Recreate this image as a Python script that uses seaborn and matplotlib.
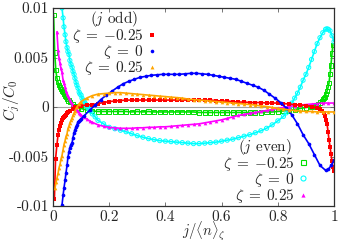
import matplotlib
matplotlib.use("Agg")
import matplotlib.pyplot as plt
import numpy as np
import pandas as pd
import seaborn as sns
from matplotlib.lines import Line2D
from matplotlib.ticker import FixedLocator, FixedFormatter

# ---- data (y in units of 1e-3) ----
# j odd, zeta = -0.25 (red)
x_odd_m = [0.005, 0.009, 0.014, 0.018, 0.021, 0.025, 0.028, 0.032, 0.036, 0.039,
           0.043, 0.046, 0.050, 0.055, 0.060, 0.070, 0.080, 0.090, 0.100,
           0.12, 0.14, 0.16, 0.18, 0.20, 0.22, 0.24, 0.26, 0.28, 0.30, 0.32, 0.34,
           0.36, 0.38, 0.40, 0.42, 0.44, 0.46, 0.48, 0.50, 0.52, 0.54, 0.56, 0.58,
           0.60, 0.62, 0.64, 0.66, 0.68, 0.70, 0.72, 0.74, 0.76, 0.78, 0.80, 0.82,
           0.84, 0.86, 0.88, 0.90, 0.92, 0.94, 0.95, 0.957, 0.963, 0.968, 0.972,
           0.975, 0.979, 0.982, 0.986, 0.989, 0.993, 0.996, 1.0]
y_odd_m = [-9.3, -5.3, -3.8, -2.8, -2.3, -1.9, -1.6, -1.3, -1.1, -1.0,
           -0.9, -0.8, -0.6, -0.5, -0.4, -0.2, -0.05, 0.05, 0.15,
           0.2, 0.25, 0.35, 0.45, 0.55, 0.6, 0.65, 0.7, 0.7, 0.7, 0.7, 0.7,
           0.7, 0.7, 0.7, 0.7, 0.7, 0.7, 0.7, 0.7, 0.7, 0.7, 0.7, 0.65,
           0.6, 0.6, 0.55, 0.5, 0.5, 0.45, 0.45, 0.45, 0.4, 0.4, 0.4, 0.35,
           0.3, 0.25, 0.2, 0.15, 0.05, -0.1, -0.2, -0.4, -0.6, -0.9, -1.3,
           -1.7, -2.5, -3.3, -4.0, -4.7, -5.5, -6.1, -6.5]

# j odd, zeta = 0 (blue)
x_odd_0 = [0.032, 0.036, 0.039, 0.043, 0.046, 0.050, 0.053, 0.057, 0.060, 0.064,
           0.068, 0.071, 0.075, 0.078, 0.082, 0.085, 0.089, 0.093, 0.096, 0.100,
           0.11, 0.13, 0.15, 0.17, 0.19, 0.21, 0.23, 0.25, 0.27, 0.29, 0.31, 0.33,
           0.35, 0.37, 0.39, 0.41, 0.43, 0.45, 0.47, 0.49, 0.51, 0.53, 0.55, 0.57,
           0.59, 0.61, 0.63, 0.65, 0.67, 0.69, 0.71, 0.73, 0.75, 0.77, 0.79, 0.81,
           0.83, 0.85, 0.87, 0.89, 0.91, 0.93, 0.95, 0.97, 0.98, 0.99, 1.0]
y_odd_0 = [-9.9, -8.9, -8.2, -7.4, -6.7, -5.9, -5.1, -4.5, -4.1, -3.8,
           -3.6, -3.1, -2.6, -2.3, -2.0, -1.8, -1.5, -1.4, -1.3, -1.2,
           -0.9, -0.35, 0.2, 0.75, 1.2, 1.6, 2.0, 2.35, 2.6, 2.8, 3.0, 3.1,
           3.2, 3.25, 3.3, 3.3, 3.3, 3.3, 3.35, 3.4, 3.4, 3.35, 3.3, 3.2,
           3.1, 3.0, 2.9, 2.8, 2.6, 2.4, 2.2, 2.0, 1.7, 1.3, 0.9, 0.45,
           -0.1, -0.8, -1.7, -2.8, -3.7, -4.8, -5.9, -6.4, -6.3, -5.9, -5.4]

# j odd, zeta = 0.25 (orange)
x_odd_p = [0.007, 0.011, 0.014, 0.018, 0.021, 0.025, 0.028, 0.032, 0.036, 0.039,
           0.043, 0.046, 0.050, 0.053, 0.057, 0.060, 0.064, 0.068, 0.071, 0.075,
           0.078, 0.085, 0.092, 0.100,
           0.12, 0.14, 0.16, 0.18, 0.20, 0.22, 0.24, 0.26, 0.28, 0.30, 0.32, 0.34,
           0.36, 0.38, 0.40, 0.42, 0.44, 0.46, 0.48, 0.50, 0.52, 0.54, 0.56, 0.58,
           0.60, 0.62, 0.64, 0.66, 0.68, 0.70, 0.72, 0.74, 0.76, 0.78, 0.80, 0.82,
           0.84, 0.86, 0.88, 0.90, 0.92, 0.94, 0.96, 0.98, 1.0]
y_odd_p = [-8.2, -7.6, -7.2, -6.7, -6.2, -5.8, -5.3, -4.9, -4.3, -3.8,
           -3.4, -3.0, -2.7, -2.2, -1.9, -1.6, -1.35, -1.1, -0.85, -0.6,
           -0.4, 0.0, 0.3, 0.55,
           0.9, 1.15, 1.3, 1.35, 1.4, 1.45, 1.45, 1.4, 1.35, 1.3, 1.25, 1.2,
           1.15, 1.1, 1.05, 1.0, 0.95, 0.9, 0.8, 0.75, 0.7, 0.65, 0.6, 0.55,
           0.5, 0.45, 0.4, 0.35, 0.3, 0.25, 0.2, 0.1, 0.05, -0.05, -0.15, -0.2,
           -0.3, -0.35, -0.4, -0.45, -0.45, -0.5, -0.5, -0.5, -0.5]

# j even, zeta = -0.25 (green)
x_even_m = [0.002, 0.006, 0.010, 0.014, 0.018, 0.021, 0.025, 0.028, 0.032, 0.036,
            0.039, 0.043, 0.046, 0.050, 0.055, 0.060, 0.070, 0.080, 0.090, 0.100,
            0.12, 0.14, 0.16, 0.18, 0.20, 0.22, 0.24, 0.26, 0.28, 0.30, 0.32, 0.34,
            0.36, 0.38, 0.40, 0.42, 0.44, 0.46, 0.48, 0.50, 0.52, 0.54, 0.56, 0.58,
            0.60, 0.62, 0.64, 0.66, 0.68, 0.70, 0.72, 0.74, 0.76, 0.78, 0.80, 0.82,
            0.84, 0.86, 0.88, 0.90, 0.92, 0.929, 0.936, 0.943, 0.950, 0.957, 0.961,
            0.964, 0.968, 0.971, 0.975, 0.979, 0.982, 0.986, 0.989, 0.993, 0.996]
y_even_m = [9.3, 5.5, 3.7, 2.9, 2.5, 2.2, 2.0, 1.8, 1.6, 1.5,
            1.3, 1.15, 1.0, 0.85, 0.65, 0.5, 0.3, 0.1, -0.05, -0.15,
            -0.3, -0.4, -0.45, -0.45, -0.45, -0.45, -0.45, -0.45, -0.5, -0.45, -0.5, -0.45,
            -0.5, -0.5, -0.5, -0.5, -0.5, -0.5, -0.5, -0.5, -0.55, -0.55, -0.55, -0.55,
            -0.55, -0.55, -0.55, -0.55, -0.55, -0.55, -0.55, -0.55, -0.5, -0.5, -0.45, -0.4,
            -0.35, -0.25, -0.15, -0.05, 0.05, 0.1, 0.2, 0.3, 0.45, 0.6, 0.8,
            0.9, 1.0, 1.3, 1.6, 2.0, 2.4, 3.3, 4.2, 5.4, 6.3]

# j even, zeta = 0 (cyan)
x_even_0 = [0.032, 0.036, 0.039, 0.043, 0.046, 0.050, 0.053, 0.057, 0.060, 0.064,
            0.068, 0.071, 0.075, 0.078, 0.082, 0.085, 0.089, 0.093, 0.096, 0.100,
            0.103, 0.107, 0.110, 0.114, 0.117, 0.121, 0.124, 0.128, 0.132, 0.14, 0.15,
            0.16, 0.18, 0.20, 0.22, 0.24, 0.26, 0.28, 0.30, 0.32, 0.34, 0.36, 0.38,
            0.40, 0.42, 0.44, 0.46, 0.48, 0.50, 0.52, 0.54, 0.56, 0.58, 0.60, 0.62,
            0.64, 0.66, 0.68, 0.70, 0.72, 0.74, 0.76, 0.78, 0.80, 0.82, 0.83, 0.84,
            0.85, 0.86, 0.87, 0.88, 0.89, 0.90, 0.91, 0.92, 0.93, 0.94, 0.95, 0.96,
            0.97, 0.975, 0.98, 0.986, 0.993, 1.0]
y_even_0 = [10.0, 9.0, 8.1, 7.3, 6.6, 6.0, 5.6, 5.3, 4.7, 4.3,
            4.0, 3.6, 3.3, 2.9, 2.5, 2.2, 1.9, 1.5, 1.3, 1.2,
            0.9, 0.7, 0.6, 0.4, 0.25, 0.1, -0.05, -0.2, -0.4, -0.7, -1.0,
            -1.35, -1.7, -2.05, -2.2, -2.35, -2.5, -2.7, -2.9, -3.05, -3.2, -3.3, -3.4,
            -3.45, -3.5, -3.55, -3.6, -3.65, -3.7, -3.7, -3.65, -3.6, -3.55, -3.45, -3.35,
            -3.25, -3.1, -2.95, -2.8, -2.6, -2.4, -2.15, -1.8, -1.4, -0.95, -0.6, -0.1,
            0.4, 0.9, 1.4, 2.0, 2.7, 3.3, 4.0, 4.8, 5.6, 6.4, 7.0, 7.5,
            7.85, 7.9, 7.85, 7.7, 7.2, 6.6]

# j even, zeta = 0.25 (magenta)
x_even_p = [0.014, 0.018, 0.021, 0.025, 0.028, 0.032, 0.036, 0.039, 0.043, 0.046,
            0.050, 0.053, 0.057, 0.060, 0.064, 0.068, 0.071, 0.075, 0.078, 0.082,
            0.085, 0.089, 0.093, 0.096, 0.100, 0.11, 0.12, 0.13, 0.14,
            0.16, 0.18, 0.20, 0.22, 0.24, 0.26, 0.28, 0.30, 0.32, 0.34, 0.36, 0.38,
            0.40, 0.42, 0.44, 0.46, 0.48, 0.50, 0.52, 0.54, 0.56, 0.58, 0.60, 0.62,
            0.64, 0.66, 0.68, 0.70, 0.72, 0.74, 0.76, 0.78, 0.80, 0.82, 0.84, 0.86,
            0.88, 0.90, 0.92, 0.94, 0.96, 0.98, 1.0]
y_even_p = [7.6, 5.8, 5.0, 4.4, 3.9, 3.5, 2.7, 2.4, 2.0, 1.6,
            1.3, 1.1, 0.9, 0.7, 0.5, 0.35, 0.2, 0.05, -0.05, -0.2,
            -0.3, -0.45, -0.6, -0.7, -0.8, -1.05, -1.2, -1.4, -1.55,
            -1.8, -1.95, -2.05, -2.1, -2.15, -2.15, -2.15, -2.1, -2.1, -2.05, -2.05, -2.0,
            -2.0, -1.95, -1.9, -1.85, -1.8, -1.75, -1.7, -1.6, -1.5, -1.4, -1.3, -1.15,
            -1.0, -0.85, -0.75, -0.65, -0.55, -0.45, -0.35, -0.25, -0.15, -0.05, 0.05, 0.15,
            0.2, 0.25, 0.3, 0.35, 0.4, 0.4, 0.4]

zeta_labels = [r"$\zeta\;=\;{-}0.25$", r"$\zeta\;=\;0$", r"$\zeta\;=\;0.25$"]
x_ticks = [0, 0.2, 0.4, 0.6, 0.8, 1.0]
x_ticklabels = ["0", "0.2", "0.4", "0.6", "0.8", "1"]
y_ticks = [-0.01, -0.005, 0, 0.005, 0.01]
y_ticklabels = ["-0.01", "-0.005", "0", "0.005", "0.01"]

# ---- style ----
sns.set_style("ticks")
plt.rcParams["mathtext.fontset"] = "cm"
plt.rcParams["font.family"] = ["serif"]
plt.rcParams["font.serif"] = ["cmr10", "DejaVu Serif"]
plt.rcParams["axes.unicode_minus"] = False
plt.rcParams["axes.formatter.use_mathtext"] = True

fig = plt.figure(figsize=(3.39, 2.42), dpi=100)
ax = fig.add_axes([53 / 339, 1 - 206 / 242, 281 / 339, 198 / 242])

ax.axhline(0, color="#a0a0a0", lw=0.8, zorder=0)

even = [
    (x_even_m, y_even_m, "#00e000", "s", "none"),
    (x_even_0, y_even_0, "#00ffff", "o", "none"),
    (x_even_p, y_even_p, "#ff00ff", "^", "fill"),
]
odd = [
    (x_odd_m, y_odd_m, "#ff0000", "s", "fill"),
    (x_odd_0, y_odd_0, "#0000ff", "o", "fill"),
    (x_odd_p, y_odd_p, "#ffa500", "^", "fill"),
]

for z, (xs, ys, col, mk, fill) in enumerate(even + odd):
    df = pd.DataFrame({"x": xs, "y": np.array(ys) * 1e-3})
    # the dense points of the original merge into a band; a thin line fills the gaps
    sns.lineplot(data=df, x="x", y="y", ax=ax, color=col, lw=1.2, sort=False,
                 legend=False, zorder=2 + z * 0.1)
    if fill == "none":
        sns.scatterplot(data=df, x="x", y="y", ax=ax, marker=mk, s=9,
                        facecolors="none", edgecolor=col, linewidth=0.7,
                        legend=False, zorder=2.05 + z * 0.1)
    else:
        sns.scatterplot(data=df, x="x", y="y", ax=ax, marker=mk, s=7,
                        color=col, linewidth=0, legend=False, zorder=2.05 + z * 0.1)

ax.set_xlim(0, 1)
ax.set_ylim(-0.01, 0.01)
ax.xaxis.set_major_locator(FixedLocator(x_ticks))
ax.xaxis.set_major_formatter(FixedFormatter(x_ticklabels))
ax.yaxis.set_major_locator(FixedLocator(y_ticks))
ax.yaxis.set_major_formatter(FixedFormatter(y_ticklabels))
ax.tick_params(direction="in", length=3, width=0.6, top=True, right=True,
               labelsize=11, pad=3, color="#606060")
for sp in ax.spines.values():
    sp.set_linewidth(0.9)
    sp.set_color("#303030")

ax.set_xlabel(r"$j/\langle n\rangle_\zeta$", fontsize=10.5)
ax.xaxis.set_label_coords(0.535, -0.071)
ax.set_ylabel(r"$C_j/C_0$", fontsize=11)
ax.yaxis.set_label_coords(-0.11, 0.535)

# ---- legends (gnuplot style: text first, then marker) ----
odd_handles = [
    Line2D([], [], marker="s", color="#ff0000", ls="none", markersize=2.4, mew=0),
    Line2D([], [], marker="o", color="#0000ff", ls="none", markersize=2.6, mew=0),
    Line2D([], [], marker="^", color="#ffa500", ls="none", markersize=2.8, mew=0),
]
even_handles = [
    Line2D([], [], marker="s", color="#00e000", mfc="white", mec="#00e000",
           ls="none", markersize=3.6, mew=0.8),
    Line2D([], [], marker="o", color="#00ffff", mfc="white", mec="#00ffff",
           ls="none", markersize=3.6, mew=0.8),
    Line2D([], [], marker="^", color="#ff00ff", ls="none", markersize=3, mew=0),
]

leg_kw = dict(markerfirst=False, frameon=False, fontsize=11, title_fontsize=11,
              borderpad=0, borderaxespad=0, handlelength=0.5, handletextpad=0.3,
              labelspacing=-0.12)
leg1 = ax.legend(odd_handles, zeta_labels, title=r"$(j$ odd$)$", loc="upper left",
                 bbox_to_anchor=(0.068, 0.995), **leg_kw)
ax.add_artist(leg1)
ax.legend(even_handles, zeta_labels, title=r"$(j$ even$)$", loc="lower left",
          bbox_to_anchor=(0.605, 0.005), **leg_kw)

fig.savefig("out.png", dpi=100)
